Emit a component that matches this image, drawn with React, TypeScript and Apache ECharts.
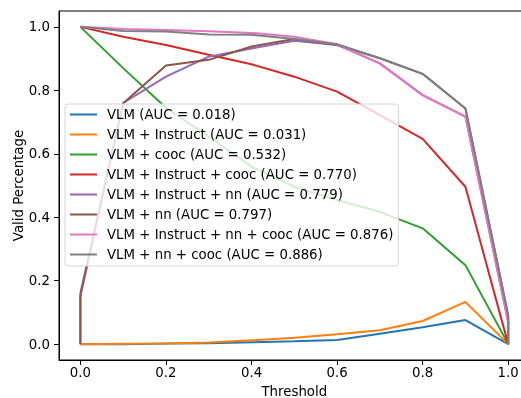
import React, { useEffect, useRef } from "react";
import * as echarts from "echarts";

const thresholds = [0, 0.1, 0.2, 0.3, 0.4, 0.5, 0.6, 0.7, 0.8, 0.9, 1.0];
const tickValues = [0, 0.2, 0.4, 0.6, 0.8, 1.0];

const seriesNames = [
  "VLM (AUC = 0.018)",
  "VLM + Instruct (AUC = 0.031)",
  "VLM + cooc (AUC = 0.532)",
  "VLM + Instruct + cooc (AUC = 0.770)",
  "VLM + Instruct + nn (AUC = 0.779)",
  "VLM + nn (AUC = 0.797)",
  "VLM + Instruct + nn + cooc (AUC = 0.876)",
  "VLM + nn + cooc (AUC = 0.886)",
];

const vlm = [0, 0, 0.002, 0.003, 0.006, 0.009, 0.013, 0.033, 0.053, 0.076, 0];
const vlmInstruct = [0, 0.001, 0.002, 0.005, 0.012, 0.02, 0.031, 0.044, 0.073, 0.133, 0];
const vlmCooc = [1.0, 0.87, 0.745, 0.654, 0.559, 0.496, 0.454, 0.417, 0.365, 0.249, 0];
const vlmInstructCooc = [1.0, 0.969, 0.943, 0.912, 0.882, 0.843, 0.796, 0.722, 0.647, 0.496, 0];
const vlmInstructNn = [0.15, 0.76, 0.843, 0.906, 0.932, 0.956, 0.943, 0.885, 0.785, 0.717, 0.07];
const vlmNn = [0.16, 0.759, 0.878, 0.896, 0.938, 0.962, 0.943, 0.901, 0.852, 0.743, 0.09];
const vlmInstructNnCooc = [1.0, 0.993, 0.99, 0.986, 0.981, 0.969, 0.945, 0.885, 0.785, 0.717, 0.07];
const vlmNnCooc = [1.0, 0.987, 0.985, 0.976, 0.975, 0.962, 0.945, 0.901, 0.852, 0.743, 0.09];

// anchors: whether the curve starts from (0,0) and/or ends at (1,0)
const startsAtOrigin = [false, false, false, false, true, true, false, false];
const endsAtZero = [false, false, false, false, true, true, true, true];

const allValues = [
  vlm,
  vlmInstruct,
  vlmCooc,
  vlmInstructCooc,
  vlmInstructNn,
  vlmNn,
  vlmInstructNnCooc,
  vlmNnCooc,
];

const colors = [
  "#1f77b4",
  "#ff7f0e",
  "#2ca02c",
  "#d62728",
  "#9467bd",
  "#8c564b",
  "#e377c2",
  "#7f7f7f",
];

const FONT = "DejaVu Sans";
const FS = 13.33;

export default function App() {
  const ref = useRef<HTMLDivElement>(null);
  useEffect(() => {
    if (!ref.current) return;
    const chart = echarts.init(ref.current, undefined, { renderer: "svg" });
    const series = allValues.map((vals, i) => {
      const pts: number[][] = thresholds.map((t, j) => [t, vals[j]]);
      if (startsAtOrigin[i]) pts.unshift([0, 0]);
      if (endsAtZero[i]) pts.push([1, 0]);
      return {
        name: seriesNames[i],
        type: "line",
        data: pts,
        symbol: "none",
        showSymbol: false,
        lineStyle: { color: colors[i], width: 2 },
        itemStyle: { color: colors[i] },
        z: 2 + i * 0.01,
      };
    });
    chart.setOption({
      animation: false,
      color: colors,
      textStyle: { fontFamily: FONT },
      grid: {
        left: 59,
        top: 11,
        width: 470.6,
        height: 349,
        show: true,
        borderColor: "#000",
        borderWidth: 1,
        containLabel: false,
        outerBoundsMode: "none",
      },
      legend: {
        orient: "vertical",
        left: 65,
        top: 104,
        padding: [3, 5, 4, 5],
        itemGap: 5,
        itemWidth: 27,
        itemHeight: 2,
        icon: "rect",
        backgroundColor: "rgba(255,255,255,0.8)",
        borderColor: "#d6d6d6",
        borderWidth: 1,
        borderRadius: 3,
        textStyle: {
          fontFamily: FONT,
          fontSize: FS,
          color: "#000",
          lineHeight: 15,
          padding: [0, 0, 0, 5],
        },
        data: seriesNames,
      },
      xAxis: {
        type: "value",
        min: -0.05,
        max: 1.05,
        name: "Threshold",
        nameLocation: "middle",
        nameGap: 25,
        nameMoveOverlap: false,
        nameTextStyle: { fontFamily: FONT, fontSize: FS, color: "#000" },
        axisLine: { show: true, onZero: false, lineStyle: { color: "#000", width: 1 } },
        axisTick: {
          show: true,
          length: 5,
          customValues: tickValues,
          lineStyle: { color: "#000", width: 1 },
        },
        axisLabel: {
          customValues: tickValues,
          margin: 6,
          fontFamily: FONT,
          fontSize: FS,
          color: "#000",
          formatter: (v: number) => v.toFixed(1),
        },
        splitLine: { show: false },
      },
      yAxis: {
        type: "value",
        min: -0.05,
        max: 1.05,
        name: "Valid Percentage",
        nameLocation: "middle",
        nameGap: 34,
        nameMoveOverlap: false,
        nameTextStyle: { fontFamily: FONT, fontSize: FS, color: "#000" },
        axisLine: { show: true, onZero: false, lineStyle: { color: "#000", width: 1 } },
        axisTick: {
          show: true,
          length: 5,
          customValues: tickValues,
          lineStyle: { color: "#000", width: 1 },
        },
        axisLabel: {
          customValues: tickValues,
          margin: 9,
          fontFamily: FONT,
          fontSize: FS,
          color: "#000",
          formatter: (v: number) => v.toFixed(1),
        },
        splitLine: { show: false },
      },
      series,
    });
    return () => chart.dispose();
  }, []);
  return (
    <div
      ref={ref}
      style={{ position: "fixed", left: 0, top: 0, width: 521, height: 398 }}
    />
  );
}
